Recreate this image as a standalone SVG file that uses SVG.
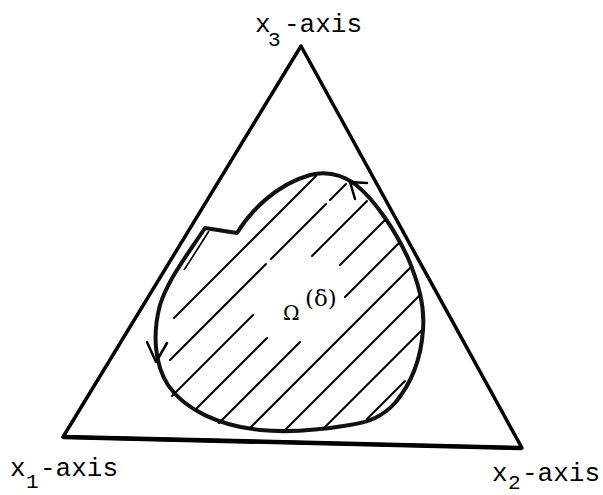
<svg xmlns="http://www.w3.org/2000/svg" width="603" height="495" viewBox="0 0 603 495">
<style>
.tri{fill:none;stroke:#000;stroke-width:3.5;stroke-linejoin:round}
.blob{fill:none;stroke:#111;stroke-width:4;stroke-linejoin:round;stroke-linecap:round}
.hatch{stroke:#000;stroke-width:2;stroke-linecap:round;fill:none}
.arr{fill:none;stroke:#000;stroke-width:2.5;stroke-linecap:round;stroke-linejoin:round}
.lbl{font-family:"Liberation Mono","DejaVu Sans Mono",monospace;font-size:26px;fill:#000}
.sub{font-size:21px}
.greek{font-family:"DejaVu Serif","Liberation Serif",serif;fill:#000}
</style>
<rect width="603" height="495" fill="#fff"/>
<g id="triangle">
<path class="tri" d="M301,46 L63,437 L522,448 Z"/>
<path d="M63,437 L522,448" stroke="#000" stroke-width="4.5" fill="none"/>
</g>
<g id="region">
<path class="blob" d="M237,233 C250,212 275,185 310,175 C330,170 345,177 355,184 C375,200 395,230 408,258 C418,282 425,305 423,330 C421,360 410,385 395,403 C383,416 370,422 350,425 C320,430 290,433 260,430 C220,426 185,410 168,385 C155,365 152,335 160,305 C168,280 185,258 205,228 L237,233 Z"/>
<path d="M209,231 C200,245 192,258 184,270" stroke="#000" stroke-width="1.6" fill="none"/>
<g class="hatch">
<path d="M174,318 L316,176"/>
<path d="M170,360 L266,264 M271,259 L326,204 M330,200 L346,184"/>
<path d="M172,396 L253,315 M312,256 L367,201"/>
<path d="M195,410 L267,338 M340,265 L385,220"/>
<path d="M219,423 L300,342 M345,297 L399,243"/>
<path d="M250,428 L410,268"/>
<path d="M283,432 L419,296"/>
<path d="M323,429 L421,331"/>
<path d="M367,419 L405,381"/>
</g>
<path class="arr" d="M367,183 L350,182 L355,199"/>
<path class="arr" d="M147,342 L156,362 L167,343"/>
<text class="greek" x="283" y="320" font-size="20">&#937;</text>
<text class="greek" x="305" y="306" font-size="23">(&#948;)</text>
</g>
<g id="labels">
<text class="lbl" x="255" y="32">x<tspan class="sub" x="268" y="46">3</tspan><tspan x="284" y="32">-axis</tspan></text>
<text class="lbl" x="10" y="476">x<tspan class="sub" x="26" y="488">1</tspan><tspan x="40" y="476">-axis</tspan></text>
<text class="lbl" x="492" y="481">x<tspan class="sub" x="508" y="489">2</tspan><tspan x="522" y="481">-axis</tspan></text>
</g>
</svg>
